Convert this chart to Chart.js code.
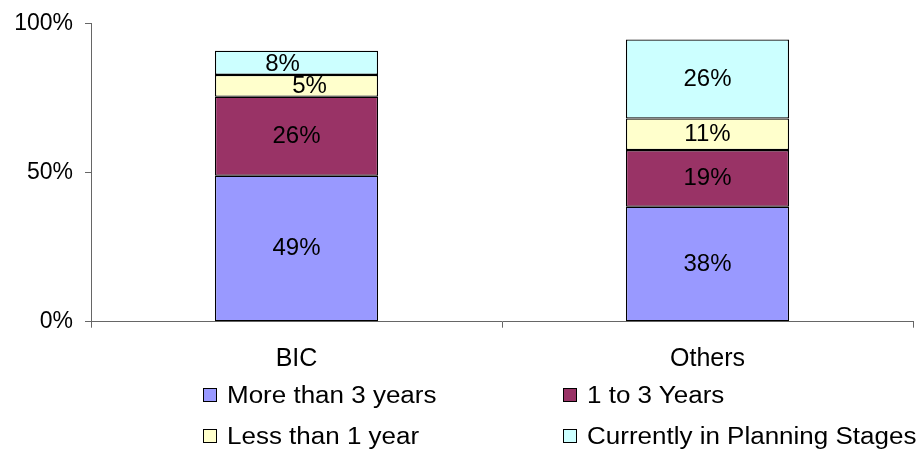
<!DOCTYPE html>
<html>
<head>
<meta charset="utf-8">
<script src="https://cdn.jsdelivr.net/npm/chart.js@4/dist/chart.umd.min.js"></script>
<style>
  html, body { margin: 0; padding: 0; background: #fff; }
  #wrap { position: relative; width: 919px; height: 451px; overflow: hidden; }
  #c { position: absolute; left: 0; top: 0; }
  .lg { position: absolute; height: 26px; display: flex; align-items: center; font-family: "Liberation Sans", Arial, sans-serif; font-size: 23px; color: #000; white-space: nowrap; }
  .lg .box { width: 12px; height: 12px; border: 1.5px solid #000; margin-right: 10px; flex: none; }
  .lg .txt { display: inline-block; transform: scaleX(1.13); transform-origin: left center; }
</style>
</head>
<body>
<div id="wrap">
  <canvas id="c" width="919" height="451"></canvas>
</div>
<script>
// ---- data ----
const categories = ['BIC', 'Others'];
const seriesNames = ['More than 3 years', '1 to 3 Years', 'Less than 1 year', 'Currently in Planning Stages'];
const moreThan3Years = [48.9, 38.5];
const oneTo3Years = [26.5, 19.0];
const lessThan1Year = [7.3, 10.6];
const planningStages = [8.1, 26.5];
const moreThan3Labels = ['49%', '38%'];
const oneTo3Labels = ['26%', '19%'];
const lessThan1Labels = ['5%', '11%'];
const planningLabels = ['8%', '26%'];
const yTickValues = [0, 50, 100];

// ---- styles ----
const colors = ['#9999FF', '#993366', '#FFFFCC', '#CCFFFF'];
const FONT = '"Liberation Sans", Arial, sans-serif';

const seriesData = [moreThan3Years, oneTo3Years, lessThan1Year, planningStages];
const seriesLabels = [moreThan3Labels, oneTo3Labels, lessThan1Labels, planningLabels];

const segLabelPlugin = {
  id: 'segLabels',
  afterDatasetsDraw(chart, args, opts) {
    const ctx = chart.ctx;
    ctx.save();
    ctx.font = opts.font;
    ctx.fillStyle = '#000';
    ctx.textAlign = 'center';
    ctx.textBaseline = 'middle';
    chart.data.datasets.forEach((ds, di) => {
      const meta = chart.getDatasetMeta(di);
      meta.data.forEach((bar, i) => {
        const txt = ds.segLabels[i];
        const off = (opts.offsets[di] && opts.offsets[di][i]) || [0, 0];
        const cy = (bar.y + bar.base) / 2;
        ctx.fillText(txt, bar.x + off[0], cy + off[1]);
      });
    });
    ctx.restore();
  }
};

const chart = new Chart(document.getElementById('c'), {
  type: 'bar',
  data: {
    labels: categories,
    datasets: seriesNames.map((name, k) => ({
      label: name,
      data: seriesData[k],
      segLabels: seriesLabels[k],
      backgroundColor: colors[k],
      borderColor: '#000',
      borderWidth: 1.3,
      borderSkipped: false,
      categoryPercentage: 1.0,
      barPercentage: 0.397
    }))
  },
  options: {
    responsive: false,
    animation: false,
    devicePixelRatio: 1,
    layout: { padding: { left: 0, right: 6, top: 23.3, bottom: 0 } },
    plugins: {
      legend: { display: false },
      tooltip: { enabled: false },
      segLabels: {
        font: '24px ' + FONT,
        offsets: { 2: { 0: [13, 1] }, 3: { 0: [-14, 2] } }
      }
    },
    scales: {
      x: {
        stacked: true,
        afterFit(s) { s.height = 129.3; s.paddingLeft = 0; s.paddingRight = 0; },
        grid: { drawOnChartArea: false, drawTicks: true, tickLength: 6, color: '#666', offset: true },
        border: { color: '#666', width: 1 },
        ticks: { color: '#000', font: { family: FONT, size: 25 }, padding: 16 }
      },
      y: {
        stacked: true,
        min: 0,
        max: 100,
        afterFit(s) { s.width = 91; s.paddingTop = 0; s.paddingBottom = 0; },
        afterBuildTicks(s) { s.ticks = yTickValues.map(v => ({ value: v })); },
        grid: { drawOnChartArea: false, drawTicks: true, tickLength: 6, color: '#666' },
        border: { color: '#666', width: 1 },
        ticks: { color: '#000', font: { family: FONT, size: 23 }, padding: 12, callback: v => v + '%' }
      }
    }
  },
  plugins: [segLabelPlugin]
});

// ---- HTML legend built from the datasets ----
const legendPos = [[203, 382], [563, 382], [203, 423], [563, 423]];
chart.data.datasets.forEach((ds, k) => {
  const item = document.createElement('div');
  item.className = 'lg';
  item.style.left = legendPos[k][0] + 'px';
  item.style.top = legendPos[k][1] + 'px';
  const box = document.createElement('span');
  box.className = 'box';
  box.style.background = ds.backgroundColor;
  const txt = document.createElement('span');
  txt.className = 'txt';
  txt.textContent = ds.label;
  item.appendChild(box);
  item.appendChild(txt);
  document.getElementById('wrap').appendChild(item);
});
</script>
</body>
</html>
